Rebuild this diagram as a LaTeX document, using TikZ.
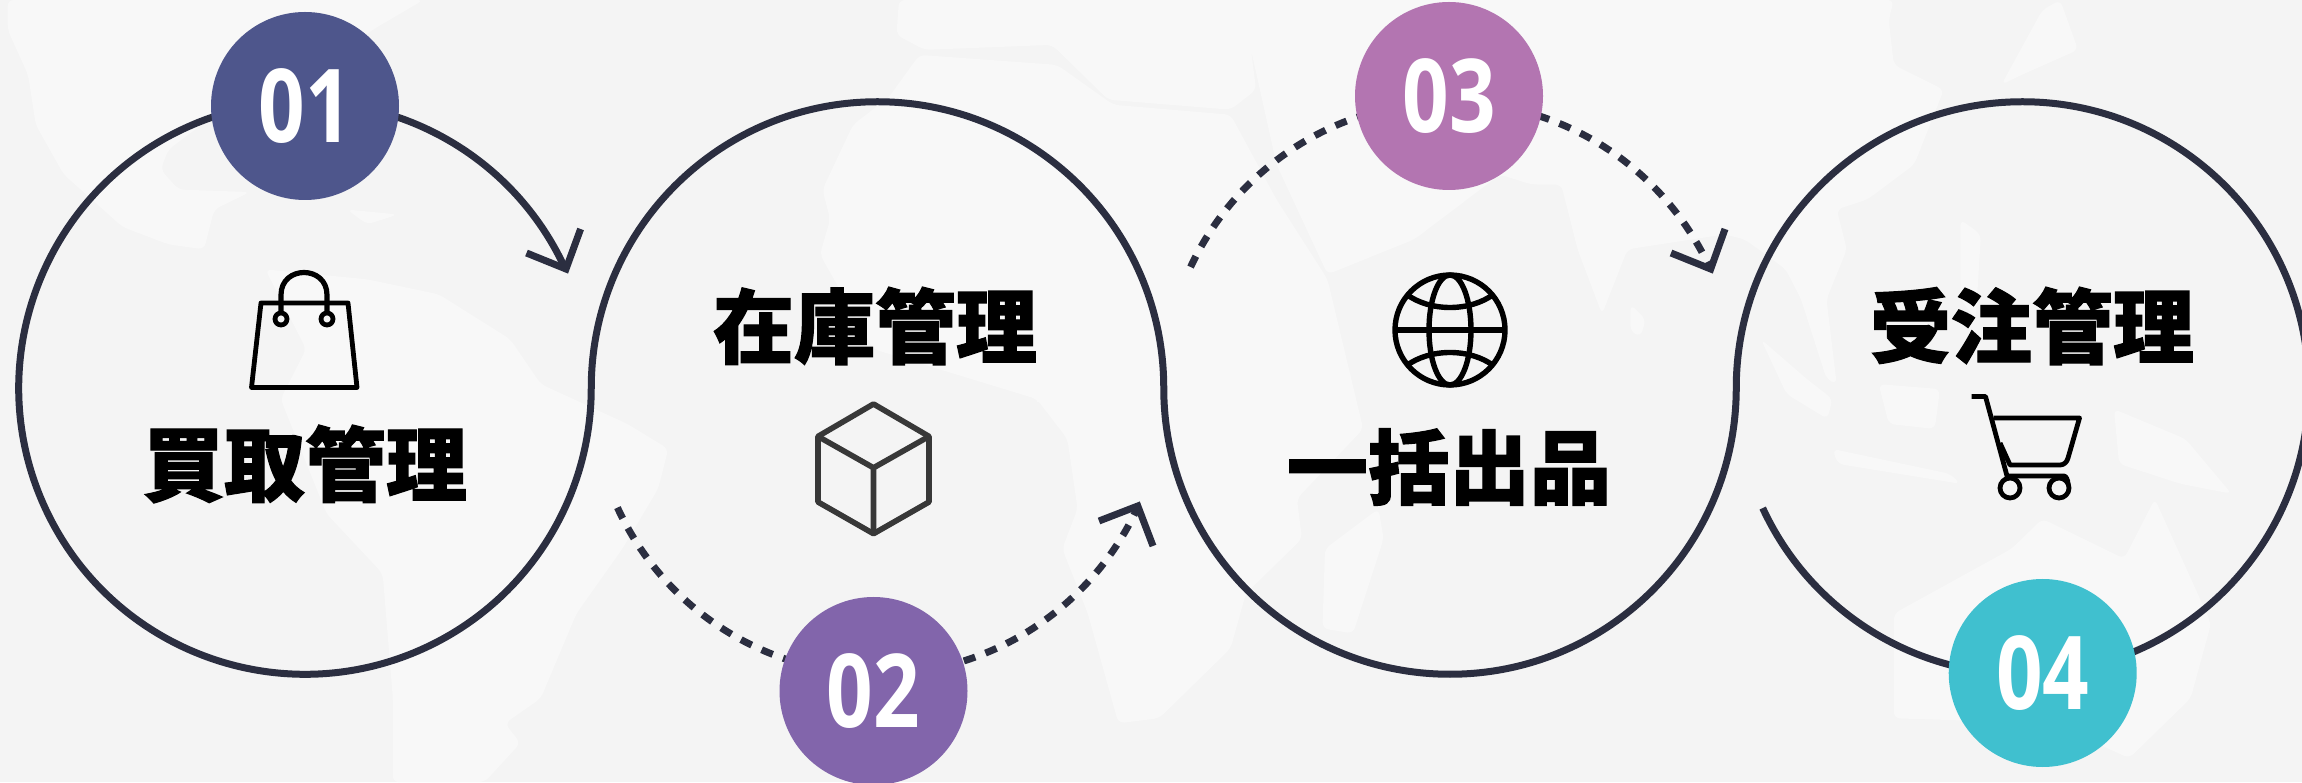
\documentclass[tikz,border=0pt]{standalone}
\usepackage{fontspec}
\usetikzlibrary{calc}
\newfontfamily\cjk{Noto Sans CJK JP}[FakeBold=1.5]
\newfontfamily\numfont{Open Sans}
\definecolor{bgc}{HTML}{F4F4F4}
\definecolor{mapc}{HTML}{F8F8F8}
\definecolor{linec}{HTML}{2B2E40}
\definecolor{ba}{HTML}{4E568C}
\definecolor{bb}{HTML}{8265AB}
\definecolor{bc}{HTML}{B375B1}
\definecolor{bd}{HTML}{40C0CF}
\tikzset{
  ring/.style={draw=linec,line width=3.5pt},
  dashring/.style={draw=linec,line width=3.5pt,dash pattern=on 6pt off 5.5pt},
  barb/.style={draw=linec,line width=3.5pt,miter limit=10},
  badge/.style={circle,minimum size=94pt,inner sep=0pt,text=white,font=\numfont\bfseries\fontsize{51}{51}\selectfont},
  title/.style={text=black,font=\cjk\bfseries\fontsize{40.5}{40.5}\selectfont,inner sep=0pt},
  icon/.style={draw=black,line width=2.4pt,line join=round},
  land/.style={fill=mapc,draw=none,rounded corners=3pt},
  mapone/.style={x=0.2551pt,y=-0.2494pt,shift={(0pt,391pt)}},
  maptwo/.style={x=0.2551pt,y=-0.2494pt,shift={(350pt,391pt)}},
  mapthree/.style={x=0.2558pt,y=-0.2494pt,shift={(750pt,391pt)}}
}
\begin{document}
\begin{tikzpicture}[x=0.5pt,y=0.5pt]
\useasboundingbox (0,0) rectangle (2302,782);
\clip (0,0) rectangle (2302,782);
\fill[bgc] (0,0) rectangle (2302,782);
% faint world map
\begin{scope}[mapone]
\fill[land] (15,0) -- (15,60) -- (55,150) -- (70,250) -- (125,350) -- (180,400) -- (240,455) -- (330,490) -- (400,500) -- (420,420) -- (490,385) -- (350,380) -- (315,340) -- (330,300) -- (460,200) -- (640,130) -- (730,60) -- (830,0) -- cycle;
\fill[land] (520,540) -- (720,560) -- (860,590) -- (1000,680) -- (1060,770) -- (1230,850) -- (1310,900) -- (1290,980) -- (1220,1100) -- (1130,1230) -- (1060,1400) -- (990,1450) -- (1020,1490) -- (950,1568) -- (770,1568) -- (770,1400) -- (750,1150) -- (640,1030) -- (550,800) -- (600,700) -- cycle;
\fill[land] (680,420) -- (780,430) -- (720,450) -- cycle;
\end{scope}
\begin{scope}[maptwo]
% Europe, Asia
\fill[land] (390,0) -- (385,70) -- (440,100) -- (690,90) -- (800,200) -- (1040,220) -- (1090,180) -- (1080,100) -- (1130,330) -- (1230,550) -- (1400,480) -- (1568,350) -- (1630,370) -- (1688,370) -- (1720,500) -- (1768,630) -- (1818,500) -- (2008,470) -- (2048,480) -- (2128,540) -- (2158,600) -- (2208,760) -- (2228,770) -- (2208,600) -- (2248,500) -- (2228,420) -- (2288,400) -- (2380,330) -- (2438,180) -- (2340,130) -- (2330,40) -- (2340,0) -- cycle;
% Africa
\fill[land] (240,380) -- (255,440) -- (235,510) -- (340,700) -- (660,800) -- (720,880) -- (740,1020) -- (710,1100) -- (760,1230) -- (820,1450) -- (900,1440) -- (1040,1300) -- (1070,1190) -- (1180,1080) -- (1170,1000) -- (1300,860) -- (1230,560) -- (1130,400) -- (1040,230) -- (810,210) -- (700,130) -- (430,110) -- (370,195) -- (300,250) -- cycle;
\fill[land] (1225,1100) -- (1330,1020) -- (1340,1080) -- (1280,1270) -- (1220,1260) -- cycle;
\fill[mapc] (660,799) rectangle (1215,806);
\end{scope}
\begin{scope}[mapthree]
\fill[land] (1060,20) -- (1095,0) -- (1130,100) -- (1020,150) -- (980,170) -- cycle;
\fill[land] (255,610) -- (285,640) -- (275,675) -- (255,665) -- cycle;
\fill[land] (510,680) -- (600,760) -- (650,800) -- (640,840) -- (560,790) -- cycle;
\fill[land] (740,770) -- (860,780) -- (850,860) -- (760,850) -- cycle;
\fill[land] (650,900) -- (880,950) -- (900,970) -- (660,930) -- cycle;
\fill[land] (1200,820) -- (1340,880) -- (1430,990) -- (1330,970) -- (1210,930) -- cycle;
\fill[land] (900,440) -- (940,470) -- (930,640) -- (900,600) -- cycle;
\fill[land] (770,1230) -- (1000,1100) -- (1060,1040) -- (1220,1120) -- (1280,1000) -- (1390,1250) -- (1350,1400) -- (1230,1520) -- (1080,1450) -- (770,1440) -- cycle;
\end{scope}
% coordinates
\def\rr{143.125pt}
\coordinate (ca) at (305,394);
\coordinate (cb) at (877.5,394);
\coordinate (cc) at (1450,394);
\coordinate (cd) at (2022.5,394);
\coordinate (starta) at ($(ca)+(24.6:\rr)$);
\coordinate (startb) at ($(cb)+(204.7:\rr)$);
\coordinate (startc) at ($(cc)+(155:\rr)$);
% main line
\draw[ring] (starta) arc[start angle=24.6,end angle=360,radius=\rr]
  arc[start angle=180,end angle=0,radius=\rr]
  arc[start angle=180,end angle=360,radius=\rr]
  arc[start angle=180,end angle=-155.2,radius=\rr];
% dashed arcs
\draw[dashring] (startb) arc[start angle=204.7,end angle=335.4,radius=\rr];
\draw[dashring] (startc) arc[start angle=155,end angle=24.6,radius=\rr];
% arrow barbs
\coordinate (tipa) at (566,513);
\coordinate (tipb) at (1137.8,276);
\coordinate (tipc) at (1710.7,513);
\coordinate (baa) at (526.5,529);
\coordinate (bab) at (580.6,553);
\coordinate (bba) at (1099,261);
\coordinate (bbb) at (1153,236);
\coordinate (bca) at (1671,529);
\coordinate (bcb) at (1725,553);
\draw[barb] (baa) -- (tipa) -- (bab);
\draw[barb] (bba) -- (tipb) -- (bbb);
\draw[barb] (bca) -- (tipc) -- (bcb);
% badges
\node[badge,fill=ba] (one) at (305,676) {\scalebox{0.8}[1]{01}};
\node[badge,fill=bb] (two) at (873.5,91) {\scalebox{0.8}[1]{02}};
\node[badge,fill=bc] (three) at (1449,686) {\scalebox{0.8}[1]{03}};
\node[badge,fill=bd] (four) at (2042.7,109) {\scalebox{0.8}[1]{04}};
% titles
\node[title] (ta) at (305,318) {買取管理};
\node[title] (tb) at (875,456) {在庫管理};
\node[title] (tc) at (1449,315) {一括出品};
\node[title] (td) at (2032,456) {受注管理};
% icons
\begin{scope}[shift={(0,782)},y=-0.5pt]
\draw[icon] (251.5,387.5) -- (357,387.5) -- (348,303) -- (261,303) -- cycle;
\draw[icon,line width=2.6pt] (281,319) -- (281,295) .. controls (281,265) and (327,265) .. (327,295) -- (327,319);
\draw[icon,fill=bgc] (281,319) circle[radius=3pt];
\draw[icon,fill=bgc] (327,319) circle[radius=3pt];
\draw[icon,draw=black!78,line width=2.8pt] (873.5,404) -- (929,436.4) -- (929,502) -- (873.5,533.7) -- (818,502) -- (818,436.4) -- cycle;
\draw[icon,draw=black!78,line width=2.8pt] (818,436.4) -- (873.5,467.8) -- (929,436.4) (873.5,467.8) -- (873.5,533.7);
\draw[icon,line width=2.7pt] (1450,330) circle[radius=27.5pt];
\draw[icon,line width=2.7pt] (1450,330) ellipse[x radius=10.5pt,y radius=27.5pt];
\draw[icon,line width=2.7pt] (1395,330) -- (1505,330);
\draw[icon,line width=2.7pt] (1406,294) .. controls (1430,312) and (1470,312) .. (1494,294);
\draw[icon,line width=2.7pt] (1406,366) .. controls (1430,348) and (1470,348) .. (1494,366);
\draw[icon] (1971.6,396.5) -- (1985.5,396.5) -- (2007,476) -- (2064,476) .. controls (2066,476) and (2068,480) .. (2068,484);
\draw[icon] (1993.5,418) -- (2079.5,418) -- (2068,458) .. controls (2067,462) and (2064,465) .. (2060,465) -- (2010,465) -- (2000,443);
\draw[icon] (2010,488) circle[radius=5pt];
\draw[icon] (2059,488) circle[radius=5pt];
\end{scope}
\end{tikzpicture}
\end{document}
